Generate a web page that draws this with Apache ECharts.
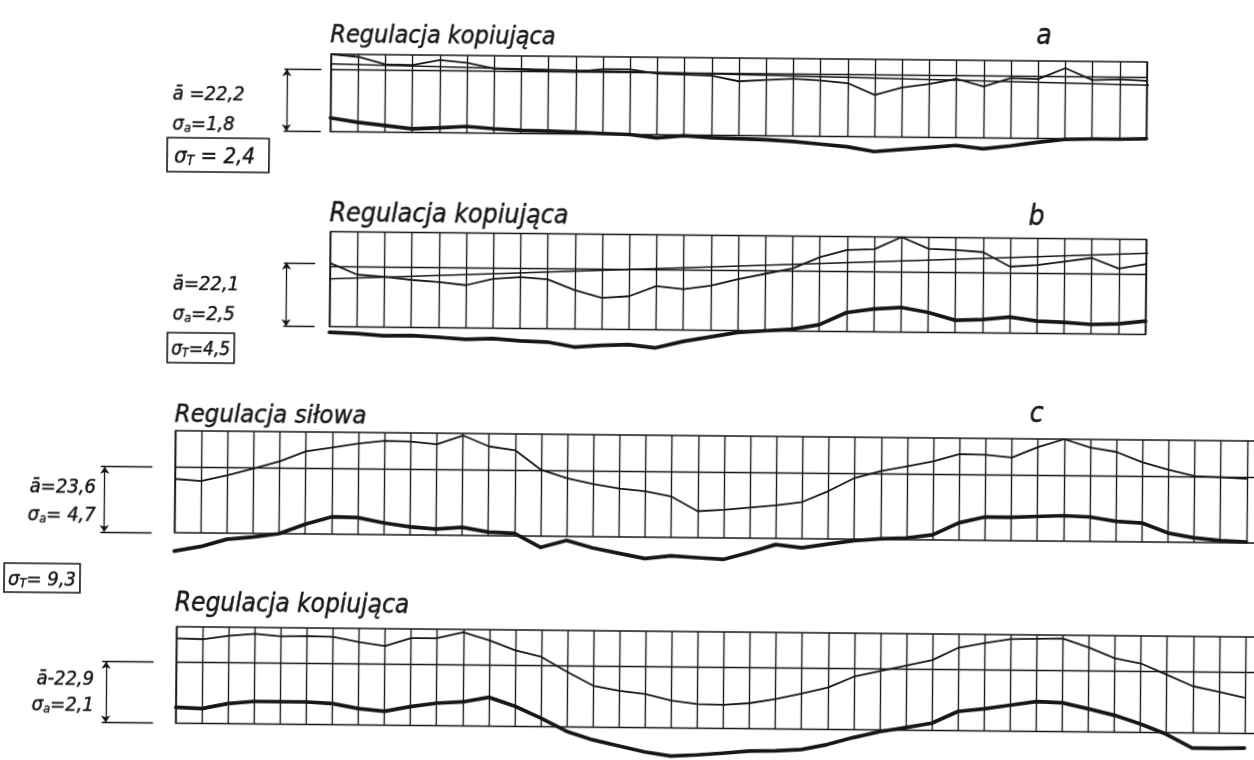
<!DOCTYPE html>
<html><head><meta charset="utf-8">
<script src="https://cdn.jsdelivr.net/npm/echarts@6/dist/echarts.min.js"></script>
<style>
html,body{margin:0;padding:0;background:#fff;overflow:hidden;width:1254px;height:760px;}
#c{position:absolute;left:-20px;top:-20px;width:1294px;height:800px;transform:rotate(0.55deg);transform-origin:50% 50%;}
</style></head><body><div id="c"></div>
<script>
// ---------- DATA (values in % of each plot box height, x = column index) ----------
const panelTitles = ['Regulacja kopiująca', 'Regulacja kopiująca', 'Regulacja siłowa', 'Regulacja kopiująca'];
const panelLetters = ['a', 'b', 'c', ''];
const meanLabels = ['ā =22,2', 'ā=22,1', 'ā=23,6', 'ā-22,9'];
const sigmaALabels = ['=1,8', '=2,5', '= 4,7', '=2,1'];
const sigmaTLabels = [' = 2,4', '=4,5', '= 9,3'];

const aThin  = [100, 96.8, 87.7, 86.8, 93.6, 90.4, 83.5, 82.6, 80.7, 80.2, 84, 84, 79, 78, 77, 70, 72, 74, 72, 69, 54, 64, 69, 75.8, 66.4, 77.7, 76.6, 91, 76, 77.3, 75.7];
const aThick = [17.8, 12.5, 8.6, 4.7, 6.4, 8.4, 5.8, 4, 3.5, 2.6, 1, 0, -4, -1, -3, -4, -5, -7, -10, -13, -19, -16, -13, -10, -14, -10, -5, -1, 0, 0, 1];
const aMean = 80;
const aTrendX = [-0.85, 31.9];
const aTrendY = [88, 69];

const bThin  = [67, 55, 53, 50, 48, 45, 52, 54, 52, 41, 33, 35, 46, 43, 47, 54, 60, 66, 78, 86, 87, 100, 88, 87, 85, 70, 72, 76, 80, 69, 74];
const bThick = [-6, -7, -9, -8.5, -10, -12, -11, -13, -14, -19, -17, -16, -19, -12, -7, -2, 0, 2, 7, 20, 24, 26, 21, 13, 14, 17, 13, 12, 10, 11, 14];
const bMean = 63;
const bBracketTop = 67;
const bTrendX = [-1, 32.1];
const bTrendY = [49, 88];

const cThin  = [52.7, 50.9, 56.8, 63.5, 71, 81, 85, 89, 92, 91.5, 89, 98, 87.5, 84, 65, 57, 51.7, 47.5, 45, 40, 26, 27.5, 30, 32.5, 36, 47, 60, 67, 72, 77, 84.5, 84, 81.5, 92, 100, 92, 88, 78, 71, 65, 64, 63];
const cThick = [-18, -13.4, -6, -3.6, 0, 9.5, 17, 16.5, 11.5, 8, 6, 8, 3.5, 2.6, -11, -4, -11, -16, -21, -18, -19.6, -21, -14, -6, -9, -5, -1.5, 0.6, 1.7, 5, 17, 23, 23, 24, 25, 24, 20, 18.6, 9, 4.6, 2, 1];
const cMean = 64;

const dThin  = [88, 87.3, 91, 93.5, 91, 91.5, 91, 86, 82, 90.5, 90.7, 97, 89, 79, 72.4, 57, 43, 38, 35, 28.5, 25, 24.5, 26.5, 31, 37, 43.5, 55, 61, 67, 73, 86, 91, 95.5, 96, 96.5, 87.5, 76.5, 71.5, 60, 48.5, 43, 37];
const dThick = [16.6, 15.5, 21, 23.4, 23.4, 23.4, 22, 17, 14.5, 19.6, 23.4, 25, 30, 21, 9, -4.5, -13, -19, -25, -29, -27.6, -25.5, -23, -22.5, -21, -15.5, -8, -1.7, 2.8, 7.6, 20, 23, 27, 31, 30, 24, 17.6, 9, -1.5, -15.5, -15.5, -15];
const dMean = 63;

// ---------- LAYOUT ----------
const INK = '#161616';
const F = "'DejaVu Sans Condensed','Liberation Sans Narrow','DejaVu Sans',sans-serif";
const panels = [
  {grid:{left:348, top:77, width:816, height:77.5}, cols:30, thin:aThin, thick:aThick, mean:aMean, brTop:aMean, trendX:aTrendX, trendY:aTrendY, br:[-1.62,-1.72,-0.35]},
  {grid:{left:349, top:254.5, width:816, height:95}, cols:30, thin:bThin, thick:bThick, mean:bMean, brTop:bBracketTop, trendX:bTrendX, trendY:bTrendY, br:[-1.6,-1.7,-0.55]},
  {grid:{left:196, top:455, width:1108.8, height:102}, cols:42, thin:cThin, thick:cThick, mean:cMean, brTop:cMean, br:[-2.69,-2.84,-0.87]},
  {grid:{left:199, top:651, width:1108.8, height:96.6}, cols:42, thin:dThin, thick:dThick, mean:dMean, brTop:dMean, br:[-2.69,-2.84,-0.87]}
];

const grids = [], xAxes = [], yAxes = [], series = [];
panels.forEach((p, k) => {
  grids.push(Object.assign({show:true, borderColor:INK, borderWidth:1.5, backgroundColor:'transparent', containLabel:false}, p.grid));
  xAxes.push({gridIndex:k, type:'value', min:0, max:p.cols, interval:1,
    axisLine:{show:false}, axisTick:{show:false}, axisLabel:{show:false},
    splitLine:{show:true, lineStyle:{color:INK, width:1.35}}});
  yAxes.push({gridIndex:k, type:'value', min:0, max:100,
    axisLine:{show:false}, axisTick:{show:false}, axisLabel:{show:false}, splitLine:{show:false}});
  const common = {xAxisIndex:k, yAxisIndex:k, clip:false, silent:true, symbol:'none', showSymbol:false};
  series.push(Object.assign({type:'line', data:p.thin.map((v,i)=>[i,v]),
    lineStyle:{color:INK, width:1.8, join:'round'}, z:4,
    markLine:{silent:true, symbol:'none', label:{show:false}, animation:false,
      lineStyle:{color:INK, width:1.3, type:'solid'}, data:[{yAxis:p.mean}]}}, common));
  series.push(Object.assign({type:'line', data:p.thick.map((v,i)=>[i,v]),
    lineStyle:{color:INK, width:3.7, join:'round', cap:'round'}, z:5}, common));
  if (p.trendX) {
    series.push(Object.assign({type:'line', data:p.trendX.map((x,i)=>[x, p.trendY[i]]),
      lineStyle:{color:INK, width:1.5}, z:3}, common));
  }
  const [xb, x1, x2] = p.br;
  series.push({type:'lines', coordinateSystem:'cartesian2d', xAxisIndex:k, yAxisIndex:k, clip:false, silent:true,
    symbol:'none', lineStyle:{color:INK, width:1.3, opacity:1, curveness:0},
    data:[{coords:[[x1,p.brTop],[x2,p.brTop]]},{coords:[[x1,0],[x2,0]]}]});
  series.push({type:'lines', coordinateSystem:'cartesian2d', xAxisIndex:k, yAxisIndex:k, clip:false, silent:true,
    symbol:['arrow','arrow'], symbolSize:7, lineStyle:{color:INK, width:1.3, opacity:1, curveness:0},
    data:[{coords:[[xb,p.brTop],[xb,0]]}]});
});

function txt(x, y, text, size, extra) {
  return {type:'text', x:x, y:y, silent:true, z:10,
    style:Object.assign({text:text, fontSize:size, fontFamily:F, fontStyle:'italic', fill:INK,
      stroke:INK, lineWidth:0.45,
      align:'left', textAlign:'left', verticalAlign:'top', textVerticalAlign:'top'}, extra || {})};
}
function richFor(size, subSize, lh) {
  return {
    t:{fontSize:size, fontFamily:F, fontStyle:'italic', fill:INK, stroke:INK, lineWidth:0.45, lineHeight:lh, verticalAlign:'bottom'},
    s:{fontSize:subSize, fontFamily:F, fontStyle:'italic', fill:INK, stroke:INK, lineWidth:0.35, lineHeight:subSize + 1, verticalAlign:'bottom'}
  };
}
const richSig = richFor(20, 13, 24);
const boxRich = [richFor(22, 14, 26), richFor(19, 12, 24), richFor(20, 13, 25)];
function sig(x, y, sub, rest, rich, extra) {
  return txt(x, y, '{t|σ}{s|' + sub + '}{t|' + rest + '}', 20, Object.assign({rich:rich}, extra || {}));
}
const titlePos = [[347,46,25],[348,224,26.5],[195,426,25.5],[197,615,26]];
const letterPos = [[1053,39],[1047,220],[1050,417]];
const meanPos = [[190,109,'left'],[192,299,'left'],[117,503,'right'],[117,695,'right']];
const sigPos = [[190,135,'left'],[192,325,'left'],[117,527,'right'],[117,717,'right']];
const sigTPos = [[185,162,[4,14,4,7]],[187,357,[3,4,3,4]],[26,589,[2,4,2,4]]];

const graphics = [];
panelTitles.forEach((t,i)=>graphics.push(txt(titlePos[i][0], titlePos[i][1], t, titlePos[i][2])));
panelLetters.forEach((t,i)=>{ if (t) graphics.push(txt(letterPos[i][0], letterPos[i][1], t, 28)); });
meanLabels.forEach((t,i)=>graphics.push(txt(meanPos[i][0], meanPos[i][1], t, 20, {align:meanPos[i][2], textAlign:meanPos[i][2]})));
sigmaALabels.forEach((t,i)=>graphics.push(sig(sigPos[i][0], sigPos[i][1], 'a', t, richSig, {align:sigPos[i][2], textAlign:sigPos[i][2]})));
sigmaTLabels.forEach((t,i)=>graphics.push(sig(sigTPos[i][0], sigTPos[i][1], 'T', t, boxRich[i],
  {borderColor:INK, borderWidth:1.6, padding:sigTPos[i][2]})));

const chart = echarts.init(document.getElementById('c'), null, {renderer:'canvas'});
chart.setOption({
  animation:false,
  backgroundColor:'#fff',
  grid:grids, xAxis:xAxes, yAxis:yAxes, series:series,
  graphic:{elements:graphics}
});
</script>
</body></html>
